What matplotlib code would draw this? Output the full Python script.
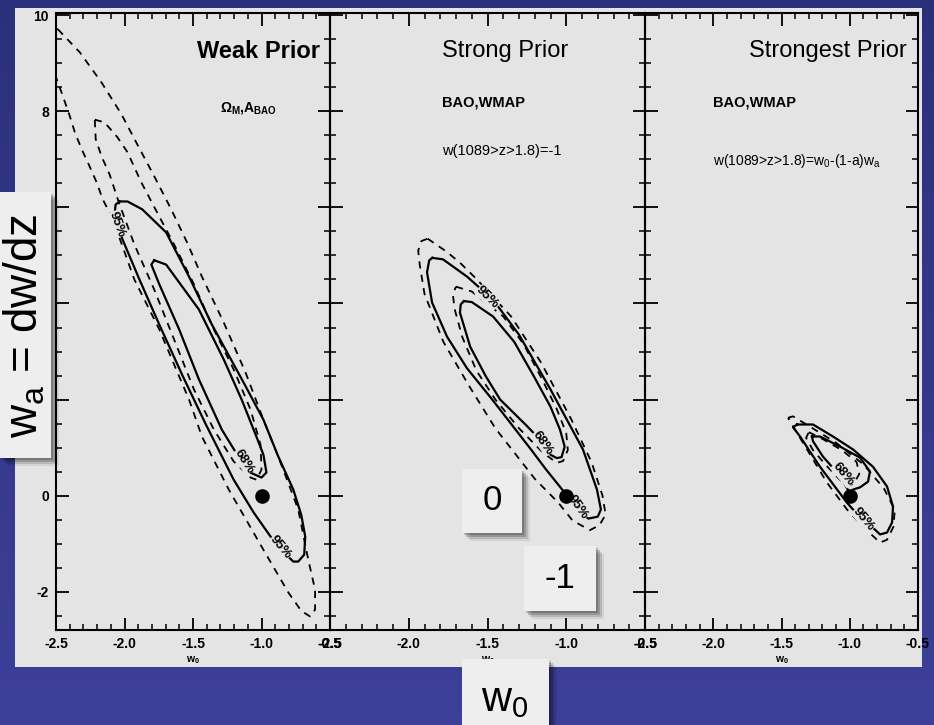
import numpy as np
import matplotlib
matplotlib.use("Agg")
import matplotlib.pyplot as plt
from matplotlib.patches import Rectangle
from matplotlib.ticker import MultipleLocator

plt.rcParams["font.family"] = ["Liberation Sans", "DejaVu Sans"]
plt.rcParams["mathtext.default"] = "regular"
plt.rcParams["axes.unicode_minus"] = False

# ---- data (w0, wa) ----
w0_ticks = [-2.5, -2.0, -1.5, -1.0, -0.5]
w0_labels = ["-2.5", "-2.0", "-1.5", "-1.0", "-0.5"]
wa_ticks = [-2, 0, 2, 4, 6, 8, 10]
# 2, 4, 6 sit behind the "wa = dw/dz" card in the slide
wa_labels = ["-2", "0", "", "", "", "8", "10"]
fiducial_w0, fiducial_wa = -1.0, 0.0

# Weak prior
weak_68_w0 = [-1.783, -1.696, -1.457, -1.275, -1.145, -1.043, -0.986, -0.964, -1.0, -1.13,
              -1.188, -1.290, -1.457, -1.601, -1.746, -1.804, -1.783]
weak_68_wa = [4.90, 4.81, 3.875, 2.83, 2.0, 1.27, 0.85, 0.48, 0.375, 0.54,
              0.90, 1.375, 2.42, 3.46, 4.40, 4.81, 4.90]
weak_95_w0 = [-2.036, -1.978, -1.870, -1.696, -1.529, -1.362, -1.130, -0.986, -0.877, -0.768,
              -0.710, -0.681, -0.688, -0.732, -0.768, -0.841, -0.935, -1.058, -1.203, -1.406,
              -1.580, -1.746, -1.891, -2.014, -2.072, -2.065, -2.036]
weak_95_wa = [6.125, 6.125, 5.96, 5.48, 4.56, 3.56, 2.35, 1.58, 0.81, 0.125,
              -0.40, -0.85, -1.23, -1.375, -1.375, -1.17, -0.85, -0.35, 0.33, 1.48,
              2.52, 3.56, 4.5, 5.33, 5.85, 6.06, 6.125]
weak_68d_w0 = [-2.217, -2.145, -2.051, -1.978, -1.877, -1.746, -1.638, -1.493, -1.348, -1.203,
               -1.080, -1.007, -1.0, -1.036, -1.080, -1.203, -1.348, -1.493, -1.638, -1.783,
               -1.928, -2.036, -2.109, -2.167, -2.210, -2.217]
weak_68d_wa = [7.83, 7.77, 7.46, 7.15, 6.52, 5.81, 5.23, 4.40, 3.46, 2.625,
               1.79, 1.06, 0.54, 0.33, 0.375, 0.71, 1.375, 2.21, 3.25, 4.29,
               5.23, 6.06, 6.69, 7.06, 7.42, 7.83]
weak_95d_w0 = [-2.486, -2.326, -2.167, -2.022, -1.906, -1.783, -1.659, -1.543, -1.435, -1.275,
               -1.116, -0.986, -0.841, -0.732, -0.659, -0.609, -0.609, -0.645, -0.71, -0.804,
               -1.0, -1.239, -1.435, -1.529, -1.638, -1.746, -1.928, -2.051, -2.094, -2.159,
               -2.203, -2.254, -2.312, -2.362, -2.399, -2.449, -2.507, -2.56, -2.58, -2.486]
weak_95d_wa = [9.71, 9.23, 8.60, 7.94, 7.31, 6.65, 5.96, 5.27, 4.56, 3.60,
               2.56, 1.58, 0.54, -0.29, -1.33, -1.96, -2.375, -2.52, -2.40, -2.02,
               -1.06, 0.125, 1.23, 2.0, 2.73, 3.46, 4.5, 5.48, 5.81, 6.17,
               6.52, 6.85, 7.21, 7.56, 7.90, 8.31, 8.77, 9.3, 9.8, 9.71]

# Strong prior
strong_68_w0 = [-1.65, -1.60, -1.465, -1.33, -1.20, -1.10, -1.04, -1.01, -1.03, -1.06,
                -1.10, -1.148, -1.25, -1.42, -1.51, -1.61, -1.675, -1.67, -1.65]
strong_68_wa = [4.05, 4.03, 3.73, 3.2, 2.45, 1.85, 1.375, 1.02, 0.80, 0.78,
                0.85, 1.10, 1.45, 2.0, 2.48, 3.10, 3.81, 3.98, 4.05]
strong_95_w0 = [-1.85, -1.783, -1.63, -1.465, -1.30, -1.10, -0.894, -0.805, -0.78, -0.80,
                -0.86, -0.93, -1.0, -1.13, -1.224, -1.47, -1.63, -1.757, -1.852, -1.884,
                -1.87, -1.85]
strong_95_wa = [4.95, 4.92, 4.56, 4.08, 3.35, 2.21, 0.96, 0.125, -0.29, -0.44,
                -0.48, -0.30, 0.02, 0.55, 0.96, 2.0, 2.65, 3.31, 4.02, 4.65,
                4.90, 4.95]
strong_68d_w0 = [-1.70, -1.60, -1.40, -1.27, -1.15, -1.06, -1.0, -0.99, -1.02, -1.06,
                 -1.15, -1.3, -1.45, -1.57, -1.66, -1.71, -1.72, -1.70]
strong_68d_wa = [4.35, 4.25, 3.73, 3.15, 2.4, 1.8, 1.3, 0.95, 0.72, 0.68,
                 0.9, 1.4, 2.0, 2.6, 3.3, 3.9, 4.2, 4.35]
strong_95d_w0 = [-1.88, -1.76, -1.675, -1.567, -1.35, -1.16, -0.97, -0.84, -0.77, -0.75,
                 -0.79, -0.85, -0.96, -1.05, -1.2, -1.45, -1.62, -1.78, -1.9, -1.93,
                 -1.94, -1.92, -1.88]
strong_95d_wa = [5.35, 5.08, 4.85, 4.5, 3.73, 2.77, 1.6, 0.7, 0.0, -0.4,
                 -0.62, -0.72, -0.52, -0.15, 0.35, 1.4, 2.3, 3.2, 4.2, 4.8,
                 5.1, 5.3, 5.35]

# Strongest prior
strongest_68_w0 = [-1.277, -1.218, -1.071, -0.925, -0.852, -0.866, -0.925, -0.976, -1.0, -1.05,
                   -1.093, -1.196, -1.269, -1.277]
strongest_68_wa = [1.23, 1.23, 1.02, 0.79, 0.5, 0.29, 0.17, 0.125, 0.05, 0.3,
                   0.48, 0.81, 1.13, 1.23]
strongest_95_w0 = [-1.386, -1.269, -1.123, -0.976, -0.83, -0.727, -0.683, -0.69, -0.727, -0.778,
                   -0.83, -0.976, -1.02, -1.218, -1.364, -1.415, -1.386]
strongest_95_wa = [1.48, 1.48, 1.23, 0.96, 0.6, 0.19, -0.23, -0.56, -0.77, -0.81,
                   -0.67, -0.29, -0.15, 0.6, 1.23, 1.42, 1.48]
strongest_68d_w0 = [-1.30, -1.20, -1.06, -0.95, -0.93, -0.97, -1.02, -1.08, -1.18, -1.27, -1.32, -1.30]
strongest_68d_wa = [1.32, 1.18, 0.95, 0.70, 0.45, 0.25, 0.2, 0.35, 0.65, 0.95, 1.2, 1.32]
strongest_95d_w0 = [-1.452, -1.415, -1.30, -1.10, -0.90, -0.75, -0.67, -0.68, -0.727, -0.778,
                    -0.903, -1.02, -1.167, -1.313, -1.415, -1.452]
strongest_95d_wa = [1.62, 1.65, 1.45, 1.1, 0.65, 0.15, -0.3, -0.65, -0.92, -0.98,
                    -0.65, -0.29, 0.27, 0.96, 1.44, 1.62]

# ---- figure ----
W, H = 934, 725
GRAY = "#e4e4e4"
CARD = "#eeeeee"
fig = plt.figure(figsize=(W / 100, H / 100), dpi=100)


def fx(px):
    return px / W


def fy(py):
    return 1 - py / H


# blue slide background + grey scanned page
bg = fig.add_axes([0, 0, 1, 1], zorder=-10)
bg.set_xlim(0, W)
bg.set_ylim(H, 0)
bg.axis("off")
top_c = np.array([0.17, 0.19, 0.48])
bot_c = np.array([0.24, 0.25, 0.60])
t = np.linspace(0, 1, 256)[:, None, None]
bg.imshow(top_c + (bot_c - top_c) * t, extent=[0, W, H, 0], aspect="auto")
bg.add_patch(Rectangle((15, 8), 907, 659, fc=GRAY, ec="none"))

panels = [(56, 330), (330, 645), (645, 918)]
axes = []
for i, (l, r) in enumerate(panels):
    ax = fig.add_axes([fx(l), fy(630), fx(r) - fx(l), fy(13) - fy(630)])
    ax.set_facecolor("none")
    ax.set_xlim(-2.5, -0.5)
    ax.set_ylim(-2.8, 10.05)
    ax.set_xticks(w0_ticks, w0_labels, fontsize=10, fontweight="bold")
    ax.set_yticks(wa_ticks, wa_labels if i == 0 else [], fontsize=10, fontweight="bold")
    ax.xaxis.set_minor_locator(MultipleLocator(0.1))
    ax.yaxis.set_minor_locator(MultipleLocator(0.5))
    ax.tick_params(which="both", direction="in", top=True, right=True, pad=5)
    ax.tick_params(which="major", length=9, width=1.3)
    ax.tick_params(which="minor", length=4.5, width=1.1)
    for s in ax.spines.values():
        s.set_linewidth(1.5)
    ax.set_xlabel("w$_0$", fontsize=7.5, fontweight="bold", labelpad=2)
    axes.append(ax)

solid = dict(color="black", lw=1.6, zorder=2)
dashed = dict(color="black", lw=1.3, ls=(0, (4, 3.5)), zorder=2)
lab = dict(fontsize=9.5, fontweight="bold", ha="center", va="center", zorder=3,
           bbox=dict(fc=GRAY, ec="none", pad=0.1))

ax1, ax2, ax3 = axes
ax1.plot(weak_95d_w0, weak_95d_wa, **dashed)
ax1.plot(weak_68d_w0, weak_68d_wa, **dashed)
ax1.plot(weak_95_w0, weak_95_wa, **solid)
ax1.plot(weak_68_w0, weak_68_wa, **solid)
ax1.text(-2.058, 5.65, "95%", rotation=-70, **lab)
ax1.text(-1.13, 0.71, "68%", rotation=-58, **lab)
ax1.text(-0.862, -1.08, "95%", rotation=-50, **lab)

ax2.plot(strong_95d_w0, strong_95d_wa, **dashed)
ax2.plot(strong_68d_w0, strong_68d_wa, **dashed)
ax2.plot(strong_95_w0, strong_95_wa, **solid)
ax2.plot(strong_68_w0, strong_68_wa, **solid)
ax2.text(-1.50, 4.12, "95%", rotation=-45, **lab)
ax2.text(-1.148, 1.10, "68%", rotation=-55, **lab)
ax2.text(-0.93, -0.25, "95%", rotation=-55, **lab)

ax3.plot(strongest_95d_w0, strongest_95d_wa, **dashed)
ax3.plot(strongest_68d_w0, strongest_68d_wa, **dashed)
ax3.plot(strongest_95_w0, strongest_95_wa, **solid)
ax3.plot(strongest_68_w0, strongest_68_wa, **solid)
ax3.text(-1.05, 0.44, "68%", rotation=-50, **lab)
ax3.text(-0.90, -0.5, "95%", rotation=-50, **lab)

for ax in axes:
    ax.plot(fiducial_w0, fiducial_wa, "o", color="black", ms=9.5, zorder=4)

# panel annotations
ax1.text(-0.572, 9.25, "Weak Prior", ha="right", va="center", fontsize=17, fontweight="bold")
ax1.text(-1.094, 8.08, r"$\Omega_M$,A$_{BAO}$", ha="center", va="center", fontsize=10, fontweight="bold")
ax2.text(-1.789, 9.25, "Strong Prior", ha="left", va="center", fontsize=17)
ax2.text(-1.789, 8.19, "BAO,WMAP", ha="left", va="center", fontsize=10.5, fontweight="bold")
ax2.text(-1.789, 7.17, "w(1089>z>1.8)=-1", ha="left", va="center", fontsize=10.5)
ax3.text(-0.581, 9.25, "Strongest Prior", ha="right", va="center", fontsize=17)
ax3.text(-2.002, 8.19, "BAO,WMAP", ha="left", va="center", fontsize=10.5, fontweight="bold")
ax3.text(-2.002, 6.96, "w(1089>z>1.8)=w$_0$-(1-a)w$_a$", ha="left", va="center", fontsize=10)


# white slide cards with drop shadows
def card(x0, y0, x1, y1):
    for k, a in [(8, 0.08), (6, 0.12), (4, 0.18), (2, 0.2)]:
        fig.patches.append(Rectangle((fx(x0 + k), fy(y1 + k)), fx(x1 - x0), (y1 - y0) / H,
                                     transform=fig.transFigure, fc="black", alpha=a,
                                     ec="none", zorder=8))
    fig.patches.append(Rectangle((fx(x0), fy(y1)), fx(x1 - x0), (y1 - y0) / H,
                                 transform=fig.transFigure, fc=CARD, ec="none", zorder=9))


card(0, 192, 51, 458)
fig.text(fx(25), fy(326), "w$_a$ = dw/dz", rotation=90, ha="center", va="center",
         fontsize=33, zorder=10)
card(462, 469, 522, 533)
fig.text(fx(492), fy(501), "0", ha="center", va="center", fontsize=25, zorder=10)
card(524, 546, 596, 611)
fig.text(fx(560), fy(578), "-1", ha="center", va="center", fontsize=25, zorder=10)
card(462, 659, 549, 740)
fig.text(fx(505), fy(700), "w$_0$", ha="center", va="center", fontsize=30, zorder=10)

fig.savefig("out.png", dpi=100)
